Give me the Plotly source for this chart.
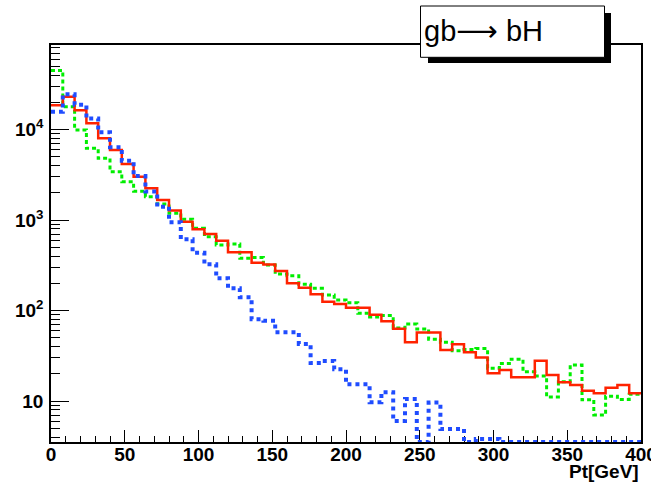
import numpy as np
import plotly.graph_objects as go

# Pt spectra, 50 bins of 8 GeV from 0 to 400 GeV (entries per bin)
bin_edges = list(range(0, 401, 8))

red_counts = [18500, 23000, 16300, 11700, 8000, 5930, 4160, 3010, 2240, 1660,
              1270, 957, 789, 700, 590, 439, 439, 337, 322, 273,
              200, 179, 151, 125, 118, 107, 107, 90, 76, 63,
              44.6, 57, 57, 36.6, 42.4, 34.5, 30.2, 20.2, 22, 18.3,
              18.3, 27.9, 19.4, 16.1, 15.0, 13.0, 12.2, 14.0, 15.0, 12.2]

green_counts = [45000, 17900, 9900, 6190, 4810, 3420, 2650, 2080, 1810, 1500,
                1190, 1020, 809, 655, 530, 543, 378, 385, 318, 253,
                242, 195, 176, 148, 131, 122, 93, 85, 88, 64,
                71, 62.5, 48, 44.6, 36, 37, 38, 23, 26, 29,
                21, 18.9, 11.1, 16.3, 25, 10.3, 7.0, 11.3, 10.4, 11.9]

blue_counts = [15700, 24500, 18800, 13200, 9300, 6360, 4520, 3060, 2060, 1400,
               944, 612, 435, 324, 227, 176, 140, 80, 77, 57.4,
               57.4, 42.7, 26.3, 27.7, 22.4, 15.3, 15.3, 9.7, 12.5, 6.0,
               10.5, 0, 9.6, 4.9, 4.9, 0, 3.8, 3.8, 0, 0,
               0, 0, 0, 0, 0, 0, 0, 0, 0, 0]

x_tick_vals = [0, 50, 100, 150, 200, 250, 300, 350, 400]
y_tick_vals = [10, 100, 1000, 10000]
y_tick_text = ["10", "10<sup>2</sup>", "10<sup>3</sup>", "10<sup>4</sup>"]

title_text = ('gb<span style="font-family:DejaVu Sans">\u27f6</span> bH')
x_title = "Pt[GeV]"

# frame geometry (pixels)
W, H = 651, 484
L, R, T, B = 51, 10, 45, 42
PW, PH = W - L - R, H - T - B
y_log_range = [0.547, 4.934]
y_floor = 10 ** y_log_range[0]


def px(xp):
    return (xp - L) / PW


def py(yp):
    return (H - B - yp) / PH


def step_xy(counts):
    vals = np.maximum(np.asarray(counts, dtype=float), y_floor)
    xs = bin_edges[:-1] + [bin_edges[-1]]
    ys = list(vals) + [vals[-1]]
    return xs, ys


fig = go.Figure()

styles = [
    (green_counts, "#00ee00", 3, "4px,3px"),
    (red_counts, "#ff2200", 2.5, "solid"),
    (blue_counts, "#1f4cff", 4, "4px,4px"),
]
for counts, color, width, dash in styles:
    xs, ys = step_xy(counts)
    fig.add_trace(go.Scatter(
        x=xs, y=ys, mode="lines", line_shape="hv",
        line=dict(color=color, width=width, dash=dash),
        showlegend=False, hoverinfo="skip",
    ))

bold_family = "Liberation Sans Narrow, Liberation Sans, Arial, sans-serif"
axis_font = dict(family=bold_family, size=19, color="black", weight="bold")

fig.update_layout(
    width=W, height=H,
    margin=dict(l=L, r=R, t=T, b=B, autoexpand=False),
    paper_bgcolor="white", plot_bgcolor="white",
    xaxis=dict(
        range=[0, 400], tickvals=x_tick_vals, ticks="inside", ticklen=12,
        tickwidth=1, tickcolor="black", showgrid=False, zeroline=False,
        showline=True, linecolor="black", linewidth=1.5, mirror=True,
        tickfont=axis_font, layer="below traces", automargin=False,
        ticklabeloverflow="allow", ticklabelstandoff=-6,
        minor=dict(dtick=10, ticks="inside", ticklen=6, tickcolor="black",
                   showgrid=False),
    ),
    yaxis=dict(
        type="log", range=y_log_range, tickvals=y_tick_vals,
        ticktext=y_tick_text, ticks="inside", ticklen=18, tickwidth=1,
        tickcolor="black", showgrid=False, zeroline=False, showline=True,
        linecolor="black", linewidth=1.5, mirror=True, tickfont=axis_font,
        layer="below traces", ticklabelstandoff=2, automargin=False,
        minor=dict(dtick="D1", ticks="inside", ticklen=9, tickcolor="black",
                   showgrid=False),
    ),
    shapes=[
        # title box shadow and box
        dict(type="rect", xref="paper", yref="paper",
             x0=px(428), x1=px(611), y0=py(63), y1=py(13),
             fillcolor="black", line=dict(width=0), layer="above"),
        dict(type="rect", xref="paper", yref="paper",
             x0=px(420.5), x1=px(604.5), y0=py(57.3), y1=py(6),
             fillcolor="white", line=dict(color="black", width=1),
             layer="above"),
    ],
    annotations=[
        dict(text=title_text, xref="paper", yref="paper",
             x=px(422), y=py(31.5), xanchor="left", yanchor="middle",
             showarrow=False,
             font=dict(family="Liberation Sans, Arial, sans-serif", size=29,
                       color="black")),
        dict(text=x_title, xref="paper", yref="paper",
             x=1.0, y=py(471), xanchor="right", yanchor="middle",
             showarrow=False, font=axis_font),
    ],
)

fig.write_html("out.html")
